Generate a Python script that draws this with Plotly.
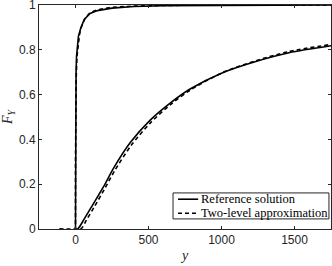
import plotly.graph_objects as go

# Upper curves (narrow distribution)
up_ref_y = [0, 0, 1, 2, 4, 7, 12, 20, 35, 60, 100, 150, 250, 400, 600, 1000, 1750]
up_ref_F = [0, 0.30, 0.50, 0.60, 0.70, 0.77, 0.82, 0.86, 0.895, 0.935, 0.962, 0.975, 0.986, 0.993, 0.997, 0.999, 1.0]
up_app_y = [-110, 0, 0, 2, 5, 10, 18, 28, 42, 65, 100, 150, 250, 400, 600, 1000, 1750]
up_app_F = [0, 0, 0.30, 0.55, 0.68, 0.77, 0.83, 0.87, 0.905, 0.94, 0.966, 0.979, 0.99, 0.995, 0.998, 1.0, 1.0]

# Lower curves (wide distribution)
lo_ref_y = [0, 15, 60, 120, 193, 261, 374, 510, 646, 782, 1008, 1235, 1462, 1750]
lo_ref_F = [0, 0, 0.045, 0.11, 0.19, 0.272, 0.385, 0.485, 0.561, 0.624, 0.698, 0.748, 0.787, 0.818]
lo_app_y = [-110, 35, 75, 130, 200, 270, 380, 515, 650, 790, 1010, 1235, 1460, 1750]
lo_app_F = [0, 0, 0.04, 0.10, 0.18, 0.262, 0.372, 0.475, 0.555, 0.622, 0.699, 0.751, 0.792, 0.824]

x_ticks = [0, 500, 1000, 1500]
y_ticks = [0, 0.2, 0.4, 0.6, 0.8, 1]
legend_labels = ["Reference solution", "Two-level approximation"]

fig = go.Figure()
line_ref = dict(color="black", width=1.6)
line_app = dict(color="black", width=1.6, dash="4px,3px")

fig.add_trace(go.Scatter(x=up_ref_y, y=up_ref_F, mode="lines", line=line_ref, name=legend_labels[0]))
fig.add_trace(go.Scatter(x=lo_ref_y, y=lo_ref_F, mode="lines", line=dict(line_ref, shape="spline", smoothing=0.8),
                         name=legend_labels[0]))
fig.add_trace(go.Scatter(x=up_app_y, y=up_app_F, mode="lines", line=line_app, name=legend_labels[1]))
fig.add_trace(go.Scatter(x=lo_app_y, y=lo_app_F, mode="lines", line=dict(line_app, shape="spline", smoothing=0.8),
                         name=legend_labels[1]))

axis_common = dict(showgrid=False, zeroline=False, showline=True, linecolor="#262626",
                   linewidth=1, mirror="ticks", ticks="inside", ticklen=3,
                   tickcolor="#262626", automargin=False, ticklabeloverflow="allow",
                   tickfont=dict(family="Liberation Sans", size=12, color="#262626"))

fig.update_xaxes(range=[-250, 1750], tickvals=x_ticks, ticktext=[str(v) for v in x_ticks],
                 title=dict(text="<i>y</i>", font=dict(family="Liberation Serif", size=14, color="#262626"),
                            standoff=3),
                 **axis_common)
fig.update_yaxes(range=[0, 1], tickvals=y_ticks, ticktext=["0", "0.2", "0.4", "0.6", "0.8", "1"],
                 title=dict(text="<i>F</i><sub><i>Y</i></sub>",
                            font=dict(family="Liberation Serif", size=14, color="#262626"),
                            standoff=4),
                 **axis_common)

# Custom compact legend (MATLAB style box)
shapes = [
    dict(type="rect", xref="paper", yref="paper", x0=0.459, x1=0.993, y0=0.045, y1=0.161,
         line=dict(color="#262626", width=1), fillcolor="white", layer="above"),
    dict(type="line", xref="paper", yref="paper", x0=0.476, x1=0.545, y0=0.133, y1=0.133,
         line=dict(color="black", width=1.6), layer="above"),
    dict(type="line", xref="paper", yref="paper", x0=0.476, x1=0.545, y0=0.070, y1=0.070,
         line=dict(color="black", width=1.6, dash="4px,3px"), layer="above"),
]
annotations = [
    dict(xref="paper", yref="paper", x=0.548, y=0.133, xanchor="left", yanchor="middle",
         text=legend_labels[0], showarrow=False,
         font=dict(family="Liberation Serif", size=12.5, color="black")),
    dict(xref="paper", yref="paper", x=0.548, y=0.070, xanchor="left", yanchor="middle",
         text=legend_labels[1], showarrow=False,
         font=dict(family="Liberation Serif", size=12.5, color="black")),
]

fig.update_layout(
    width=332, height=266,
    margin=dict(l=39, r=1, t=5, b=37),
    plot_bgcolor="white", paper_bgcolor="white",
    showlegend=False,
    shapes=shapes, annotations=annotations,
)

fig.write_html("out.html", config={"displayModeBar": False},
               post_script="document.body.style.margin='0';document.body.style.overflow='hidden';")
